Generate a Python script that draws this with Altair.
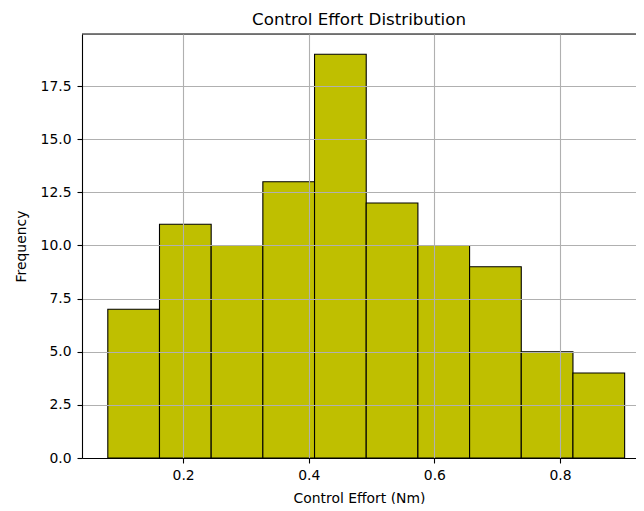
import altair as alt
import pandas as pd

# Histogram data
bin_edges = [0.0800, 0.1623, 0.2446, 0.3269, 0.4092, 0.4915, 0.5738, 0.6561, 0.7384, 0.8207, 0.9030]
counts = [7, 11, 10, 13, 19, 12, 10, 9, 5, 4]
x_ticks = [0.2, 0.4, 0.6, 0.8]
y_ticks = [0.0, 2.5, 5.0, 7.5, 10.0, 12.5, 15.0, 17.5]

df = pd.DataFrame({
    "start": bin_edges[:-1],
    "end": bin_edges[1:],
    "count": counts,
})

x_dom = [0.0389, 0.9211]
y_dom = [0.0, 19.95]
FONT = "DejaVu Sans"

x_scale = alt.Scale(domain=x_dom, nice=False, zero=False)
y_scale = alt.Scale(domain=y_dom, nice=False, zero=False)

bars = alt.Chart(df).mark_bar(
    color="#bfbf00", stroke="black", strokeWidth=1.1, opacity=1
).encode(
    x=alt.X("start:Q", scale=x_scale, title="Control Effort (Nm)",
            axis=alt.Axis(values=x_ticks, format=".1f", grid=True, gridColor="#b0b0b0",
                          gridWidth=1.1, zindex=1, domainColor="black", domainWidth=1.1,
                          tickColor="black", tickWidth=1.1, tickSize=5, labelPadding=5,
                          labelFont=FONT, labelFontSize=13.9, labelColor="black",
                          titleFont=FONT, titleFontSize=13.9, titleColor="black",
                          titleFontWeight="normal", titleBaseline="alphabetic",
                          titleY=44)),
    x2="end:Q",
    y=alt.Y("count:Q", scale=y_scale, title="Frequency",
            axis=alt.Axis(values=y_ticks, format=".1f", grid=True, gridColor="#b0b0b0",
                          gridWidth=1.1, zindex=1, domainColor="black", domainWidth=1.1,
                          tickColor="black", tickWidth=1.1, tickSize=5, labelPadding=6,
                          labelFont=FONT, labelFontSize=13.9, labelColor="black",
                          titleFont=FONT, titleFontSize=13.9, titleColor="black",
                          titleFontWeight="normal", titlePadding=12)),
    y2=alt.datum(0),
)

top_line = alt.Chart(pd.DataFrame({"top": [y_dom[1]]})).mark_rule(
    color="black", strokeWidth=1.1
).encode(y=alt.Y("top:Q", scale=y_scale))

chart = alt.layer(bars, top_line).properties(
    width=554,
    height=424,
    title=alt.TitleParams("Control Effort Distribution", font=FONT, fontSize=16.7,
                          fontWeight="normal", color="black", anchor="middle", offset=5),
    autosize=alt.AutoSizeParams(type="none"),
    padding={"left": 74, "top": 26, "right": 0, "bottom": 46},
).configure_view(stroke=None).configure(background="white")

chart.save("out.html", embed_options={"renderer": "svg", "actions": False})
